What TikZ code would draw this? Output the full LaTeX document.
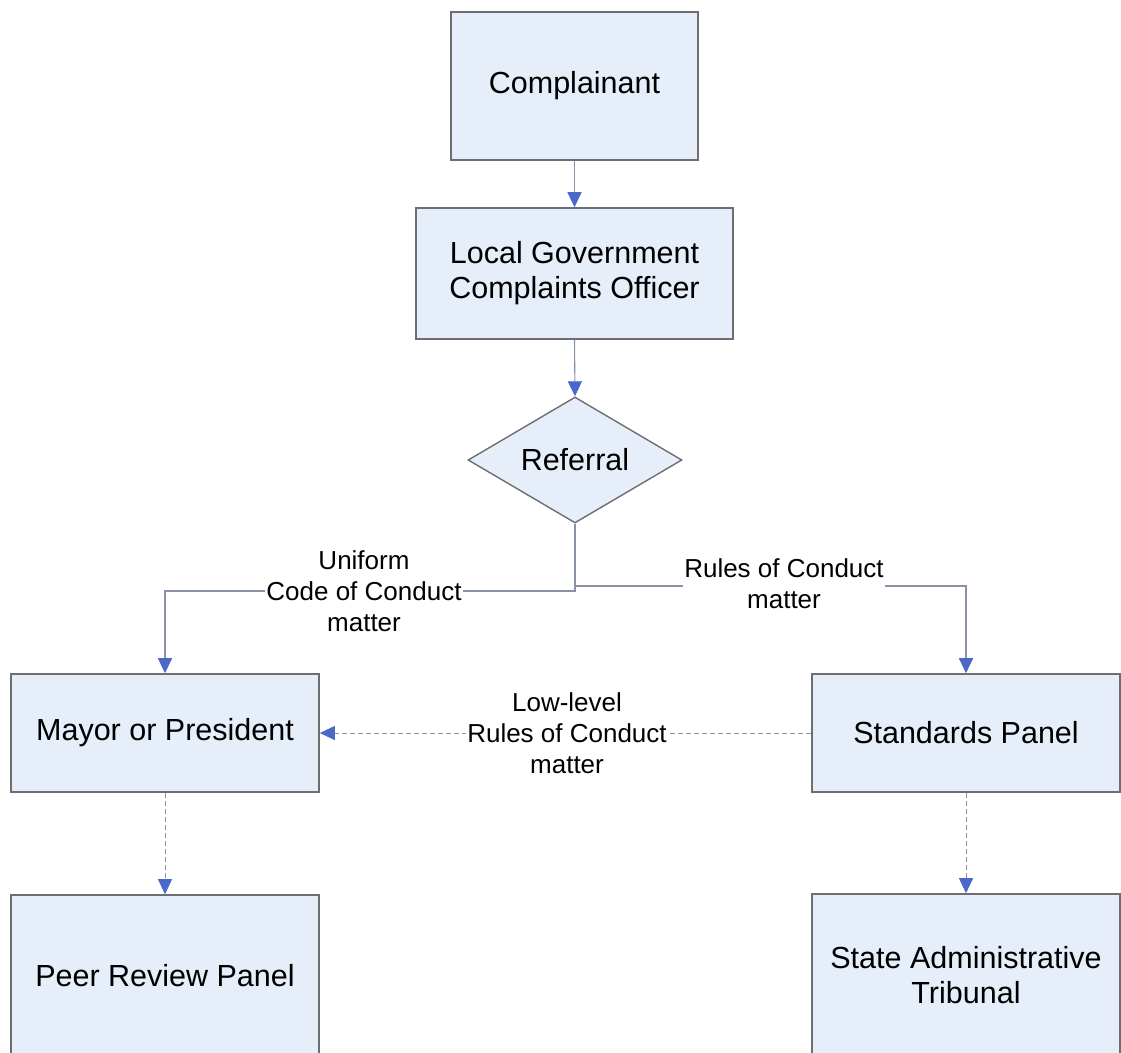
\documentclass[tikz,border=0pt]{standalone}
\usepackage{fontspec}
\setmainfont{Liberation Sans}
\usetikzlibrary{shapes.geometric,arrows.meta}
\definecolor{boxfill}{HTML}{E6EEF9}
\definecolor{boxline}{HTML}{6E6E70}
\definecolor{connline}{HTML}{8A93A6}
\definecolor{tipblue}{HTML}{4A68C8}
\tikzset{
  box/.style={draw=boxline, line width=1.6pt, fill=boxfill, inner sep=0pt, align=center,
    font=\fontsize{30.5}{35}\selectfont},
  decision/.style={diamond, draw=boxline, line width=1.4pt, fill=boxfill, inner sep=0pt,
    aspect=1.7, minimum width=214pt, minimum height=126pt, font=\fontsize{30.5}{35}\selectfont},
  conn/.style={draw=connline, line width=1.1pt, -{Triangle[width=14pt,length=15pt,fill=tipblue,color=tipblue]}},
  dashconn/.style={conn, dash pattern=on 5pt off 3pt, line width=0.9pt},
  lbl/.style={fill=white, inner sep=1pt, align=center, font=\fontsize{26}{31}\selectfont}
}
\begin{document}
\begin{tikzpicture}[x=1pt,y=-1pt]
\useasboundingbox (0,0) rectangle (1121,1052);
\clip (0,0) rectangle (1121,1052);
% nodes
\node[box, minimum width=247pt, minimum height=148pt] (comp) at (574.5,86) {Complainant};
\node[box, minimum width=317pt, minimum height=131pt] (lgco) at (574.5,273.5) {Local Government\\Complaints Officer};
\node[decision] (ref) at (575,460) {Referral};
\node[box, minimum width=308pt, minimum height=118pt] (mayor) at (165,733) {Mayor or President};
\node[box, minimum width=308pt, minimum height=118pt] (std) at (966,733) {Standards Panel};
\node[box, minimum width=308pt, minimum height=162pt] (peer) at (165,976) {Peer Review Panel};
\node[box, minimum width=308pt, minimum height=162pt] (trib) at (966,975) {State Administrative\\Tribunal};
% junction coordinates
\coordinate (jl) at (165,591);
\coordinate (jr) at (966,586);
% connectors
\draw[conn] (comp.south) -- (lgco.north);
\draw[conn] (lgco.south) -- (ref.north);
\draw[conn] (ref.south) -- (ref.south |- jl) -- (jl) -- (mayor.north);
\draw[conn] (ref.south |- jr) -- (jr) -- (std.north);
\draw[dashconn] (std.west) -- (mayor.east);
\draw[dashconn] (mayor.south) -- (peer.north);
\draw[dashconn] (std.south) -- (trib.north);
% labels
\node[lbl] (l1) at (364,591) {Uniform\\Code of Conduct\\matter};
\node[lbl] (l2) at (784,583.5) {Rules of Conduct\\matter};
\node[lbl] (l3) at (567,733) {Low-level\\Rules of Conduct\\matter};
\end{tikzpicture}
\end{document}
